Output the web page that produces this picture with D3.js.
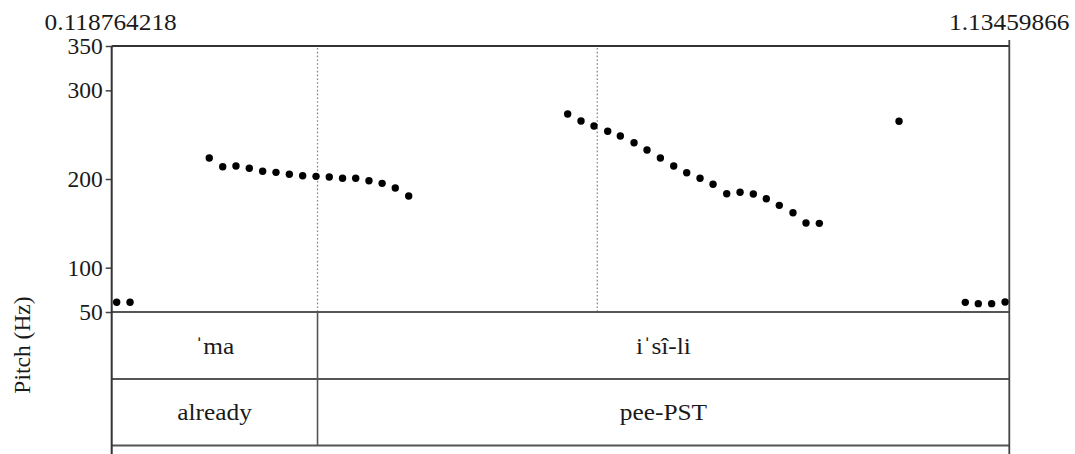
<!DOCTYPE html>
<html>
<head>
<meta charset="utf-8">
<script src="https://cdn.jsdelivr.net/npm/d3@7"></script>
<style>
  html, body { margin: 0; padding: 0; background: #fff; }
  text { font-family: "Liberation Serif", "Times New Roman", serif; fill: #1a1a1a; }
</style>
</head>
<body>
<svg id="chart" width="1075" height="454"></svg>
<script>
// ---- data ----
const timeRange = [0.118764218, 1.13459866];
const yTicks = [50, 100, 200, 300, 350];
const pitchTimes = [
  0.1244, 0.1395,
  0.2292, 0.2444, 0.2594, 0.2745, 0.2896, 0.3047, 0.3198, 0.3349, 0.3500, 0.3650,
  0.3800, 0.3949, 0.4099, 0.4248, 0.4397, 0.4549,
  0.6348, 0.6499, 0.6646, 0.6801, 0.6944, 0.7099, 0.7246, 0.7397, 0.7548, 0.7695,
  0.7846, 0.7993, 0.8148, 0.8299, 0.8449, 0.8596, 0.8743, 0.8898, 0.9045, 0.9196,
  1.0098,
  1.0848, 1.0995, 1.1146, 1.1298
];
const pitchValues = [
  61, 61,
  223.7, 213.9, 214.7, 212.1, 208.7, 207.5, 205.3, 203.7, 203.0, 202.2,
  200.8, 200.8, 198.1, 195.1, 189.8, 180.8,
  273.3, 265.4, 259.8, 253.8, 248.5, 240.9, 232.7, 223.7, 214.7, 207.1,
  200.8, 194.0, 183.4, 185.0, 183.1, 177.8, 170.3, 162.0, 150.4, 150.0,
  265.1,
  60.9, 59.4, 59.4, 61.3
];
const dottedBoundaries = [0.3517, 0.6683];
const tier1Labels = ["\u02C8ma", "i\u02C8s\u00EE-li"];
const tier2Labels = ["already", "pee-PST"];
const tierBoundaries = [0.3517];
const yLabel = "Pitch (Hz)";

// ---- layout ----
const padLeft = 111.7, padRight = 1009.3, plotTop = 46, plotBottom = 312;
const tierLines = [312, 379, 445.5];
const svg = d3.select("#chart");

const x = d3.scaleLinear().domain(timeRange).range([padLeft, padRight]);
const y = d3.scaleLinear().domain([50, 350]).range([plotBottom, plotTop]);

const textScale = 1.08;
function label(g, str, px, py, anchor, size) {
  g.append("text")
    .attr("transform", `translate(${px},${py}) scale(${textScale},1)`)
    .attr("text-anchor", anchor)
    .style("font-size", (size || 23.5) + "px")
    .text(str);
}

// dotted boundaries in the pitch panel
svg.selectAll("line.dot").data(dottedBoundaries).enter().append("line")
  .attr("x1", d => x(d)).attr("x2", d => x(d))
  .attr("y1", plotTop + 2).attr("y2", plotBottom)
  .attr("stroke", "#888").attr("stroke-width", 1.3)
  .attr("stroke-dasharray", "1.6,2.2");

// tier horizontal lines
svg.selectAll("line.tier").data(tierLines).enter().append("line")
  .attr("x1", padLeft).attr("x2", padRight)
  .attr("y1", d => d).attr("y2", d => d)
  .attr("stroke", "#555").attr("stroke-width", 1.8);

// tier boundaries (solid)
svg.selectAll("line.tb").data(tierBoundaries).enter().append("line")
  .attr("x1", d => x(d)).attr("x2", d => x(d))
  .attr("y1", tierLines[0]).attr("y2", tierLines[2])
  .attr("stroke", "#555").attr("stroke-width", 1.6);

// top border
svg.append("line").attr("x1", padLeft).attr("x2", padRight)
  .attr("y1", plotTop).attr("y2", plotTop)
  .attr("stroke", "#333").attr("stroke-width", 2);

// right border
svg.append("line").attr("x1", padRight).attr("x2", padRight)
  .attr("y1", plotTop - 6).attr("y2", 454)
  .attr("stroke", "#444").attr("stroke-width", 1.8);

// left y axis
const yAxis = d3.axisLeft(y).tickValues(yTicks).tickSize(6).tickSizeOuter(0).tickPadding(3);
const ga = svg.append("g").attr("transform", `translate(${padLeft},0)`).call(yAxis);
ga.select(".domain").remove();
ga.selectAll(".tick line").attr("stroke", "#444").attr("stroke-width", 1.5);
ga.selectAll(".tick text")
  .style("font-size", "23.5px")
  .attr("fill", "#1a1a1a")
  .style("font-family", '"Liberation Serif", serif');
ga.selectAll(".tick").filter(d => d === 350).select("line").attr("x1", 2);
svg.append("line").attr("x1", padLeft).attr("x2", padLeft)
  .attr("y1", plotTop).attr("y2", 454)
  .attr("stroke", "#333").attr("stroke-width", 2);

// pitch points
const pts = pitchTimes.map((t, i) => ({ t, v: pitchValues[i] }));
svg.selectAll("circle.p").data(pts).enter().append("circle")
  .attr("cx", d => x(d.t)).attr("cy", d => y(d.v))
  .attr("r", 3.7).attr("fill", "#000");

// top time labels
label(svg, String(timeRange[0]), x(timeRange[0]) - 1, 30, "middle");
label(svg, String(timeRange[1]), x(timeRange[1]), 30, "middle");

// tier labels
const bounds = [timeRange[0], ...tierBoundaries, timeRange[1]];
tier1Labels.forEach((s, i) => {
  const cx = (x(bounds[i]) + x(bounds[i + 1])) / 2;
  label(svg, s, cx, 353.5, "middle");
});
tier2Labels.forEach((s, i) => {
  const cx = (x(bounds[i]) + x(bounds[i + 1])) / 2;
  label(svg, s, cx, 420, "middle");
});

// y label
svg.append("text")
  .attr("transform", "translate(30,345) rotate(-90)")
  .attr("text-anchor", "middle")
  .style("font-size", "23.5px")
  .text(yLabel);
</script>
</body>
</html>
